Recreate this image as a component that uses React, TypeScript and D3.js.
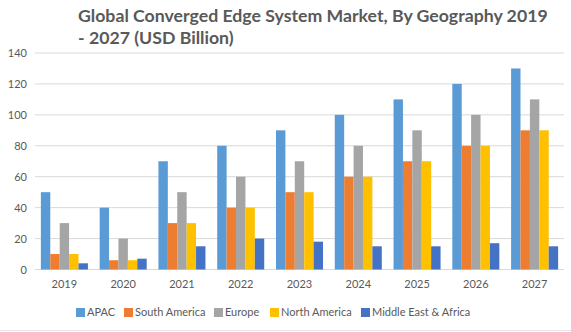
import React from "react";
import * as d3 from "d3";

const years = ["2019", "2020", "2021", "2022", "2023", "2024", "2025", "2026", "2027"];
const seriesNames = ["APAC", "South America", "Europe", "North America", "Middle East & Africa"];
const apac = [50, 40, 70, 80, 90, 100, 110, 120, 130];
const southAmerica = [10, 6, 30, 40, 50, 60, 70, 80, 90];
const europe = [30, 20, 50, 60, 70, 80, 90, 100, 110];
const northAmerica = [10, 6, 30, 40, 50, 60, 70, 80, 90];
const mea = [4, 7, 15, 20, 18, 15, 15, 17, 15];
const yTicks = [0, 20, 40, 60, 80, 100, 120, 140];
const colors = ["#5B9BD5", "#ED7D31", "#A5A5A5", "#FFC000", "#4472C4"];

const W = 571, H = 332;
const FONT = "Lato, 'Open Sans', sans-serif";

export default function App() {
  const allSeries = [apac, southAmerica, europe, northAmerica, mea];
  const x0 = d3.scaleBand().domain(years).range([35, 564]).paddingInner(0.2).paddingOuter(0.1);
  const x1 = d3.scaleBand().domain(seriesNames).range([0, x0.bandwidth()]);
  const y = d3.scaleLinear().domain([0, 140]).range([269.5, 53]);

  const legendX = [76, 124, 214, 270, 361];

  return (
    <svg width={W} height={H} style={{ position: "absolute", left: 0, top: 0, background: "#fff" }} fontFamily={FONT}>
      <text x={78} y={22} fontSize={17.7} fontWeight="bold" fill="#595959">
        Global Converged Edge System Market, By Geography 2019
      </text>
      <text x={78} y={44} fontSize={17.7} fontWeight="bold" fill="#595959">
        - 2027 (USD Billion)
      </text>
      {yTicks.map((t) => (
        <g key={t}>
          <line x1={35} x2={564} y1={y(t)} y2={y(t)} stroke="#d9d9d9" strokeWidth={1} />
          <text x={27} y={y(t) + 4} fontSize={11} fill="#595959" textAnchor="end">{t}</text>
        </g>
      ))}
      {years.map((yr, i) => (
        <g key={yr} transform={`translate(${x0(yr)},0)`}>
          {seriesNames.map((s, j) => (
            <rect key={s} x={x1(s)} width={x1.bandwidth()} y={y(allSeries[j][i])}
              height={y(0) - y(allSeries[j][i])} fill={colors[j]} />
          ))}
        </g>
      ))}
      {years.map((yr) => (
        <text key={yr} x={(x0(yr) as number) + x0.bandwidth() / 2} y={288} fontSize={11} fill="#595959" textAnchor="middle">{yr}</text>
      ))}
      {seriesNames.map((s, j) => (
        <g key={s}>
          <rect x={legendX[j]} y={308} width={9} height={9} fill={colors[j]} />
          <text x={legendX[j] + 11} y={316} fontSize={11} fill="#595959">{s}</text>
        </g>
      ))}
      <line x1={0} x2={W} y1={330.5} y2={330.5} stroke="#e6e6e6" />
    </svg>
  );
}
